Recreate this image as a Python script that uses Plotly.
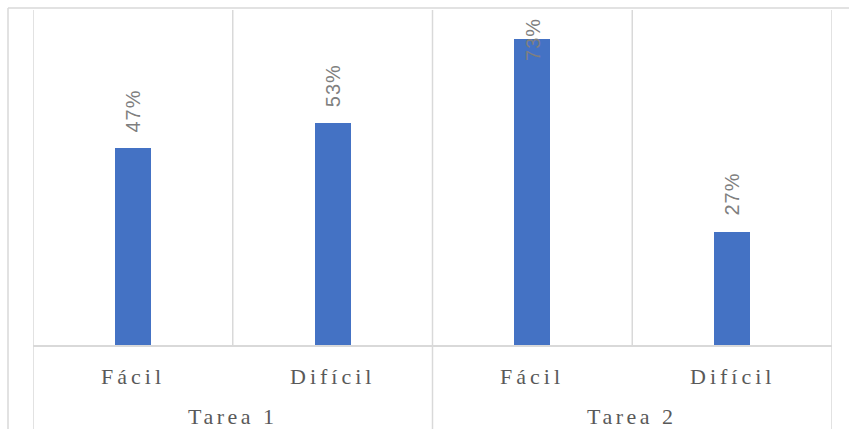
import plotly.graph_objects as go

# ---- data ----
groups = ["Tarea 1", "Tarea 2"]
levels = ["Fácil", "Difícil"]
values = [0.47, 0.53, 0.73, 0.27]

# ---- derived ----
n_lev = len(levels)
cats = [(g, l) for g in groups for l in levels]
idx = list(range(len(cats)))
y_max = 0.8

W, H = 849, 429
ML, MR, MT, MB = 33, 17, 10, 84
plot_w = W - ML - MR
plot_h = H - MT - MB

GRID = "#d9d9d9"
BAR = "#4472C4"
AX_TXT = "#595959"
LBL_TXT = "#7f7f7f"

fig = go.Figure()
fig.add_trace(go.Bar(
    x=idx, y=values, width=0.18,
    marker=dict(color=BAR, line=dict(width=0)),
    hoverinfo="skip", showlegend=False,
))

shapes = []
# vertical gridlines at category boundaries
for b in range(len(cats) + 1):
    shapes.append(dict(type="line", xref="x", yref="paper",
                       x0=b - 0.5, x1=b - 0.5, y0=0, y1=1,
                       line=dict(color=GRID, width=1.5), layer="below"))
# group boundaries extending through the label area
for gb in range(len(groups) + 1):
    xb = gb * n_lev - 0.5
    shapes.append(dict(type="line", xref="x", yref="paper",
                       x0=xb, x1=xb, y0=0, y1=-(MB + 5) / plot_h,
                       line=dict(color=GRID, width=1.5)))
# chart-area border (left and top)
bx = -(ML - 8) / plot_w
by = 1 + (MT - 8) / plot_h
shapes.append(dict(type="line", xref="paper", yref="paper",
                   x0=bx, x1=bx, y0=by, y1=-(MB + 5) / plot_h,
                   line=dict(color=GRID, width=1.5)))
shapes.append(dict(type="line", xref="paper", yref="paper",
                   x0=bx, x1=1 + (MR + 5) / plot_w, y0=by, y1=by,
                   line=dict(color=GRID, width=1.5)))

annotations = []
# inner level labels
for i, (g, l) in enumerate(cats):
    annotations.append(dict(
        x=i, xref="x", y=0, yref="paper", yanchor="middle", xanchor="center",
        yshift=-31, showarrow=False,
        text=f'<span style="letter-spacing:4px">{l}</span>',
        font=dict(family="Liberation Serif", size=22, color=AX_TXT)))
# outer group labels
for gi, g in enumerate(groups):
    annotations.append(dict(
        x=gi * n_lev + (n_lev - 1) / 2, xref="x", y=0, yref="paper",
        yanchor="middle", xanchor="center", yshift=-71, showarrow=False,
        text=f'<span style="letter-spacing:3.5px">{g}</span>',
        font=dict(family="Liberation Serif", size=22, color=AX_TXT)))
# data labels (rotated), pushed inside the plot area when they don't fit
px_per_unit = plot_h / y_max
gap_px, len_px = 14, 46
for i, v in enumerate(values):
    txt = f'<span style="letter-spacing:1px">{round(v * 100):d}%</span>'
    if v * px_per_unit + gap_px + len_px > plot_h:
        annotations.append(dict(x=i, xref="x", y=y_max, yref="y",
                                yanchor="top", xanchor="center", yshift=-6,
                                textangle=-90, showarrow=False, text=txt,
                                font=dict(family="Liberation Sans", size=20, color=LBL_TXT)))
    else:
        annotations.append(dict(x=i, xref="x", y=v, yref="y",
                                yanchor="bottom", xanchor="center", yshift=gap_px,
                                textangle=-90, showarrow=False, text=txt,
                                font=dict(family="Liberation Sans", size=20, color=LBL_TXT)))

fig.update_layout(
    width=W, height=H,
    margin=dict(l=ML, r=MR, t=MT, b=MB),
    paper_bgcolor="white", plot_bgcolor="white",
    xaxis=dict(range=[-0.5, len(cats) - 0.5], showgrid=False, zeroline=False,
               showticklabels=False, ticks="", showline=True,
               linecolor=GRID, linewidth=1.5, fixedrange=True),
    yaxis=dict(range=[0, y_max], showgrid=False, zeroline=False,
               showticklabels=False, ticks="", showline=False, fixedrange=True),
    shapes=shapes, annotations=annotations, bargap=0,
)

fig.write_html("out.html", config={"displayModeBar": False})
